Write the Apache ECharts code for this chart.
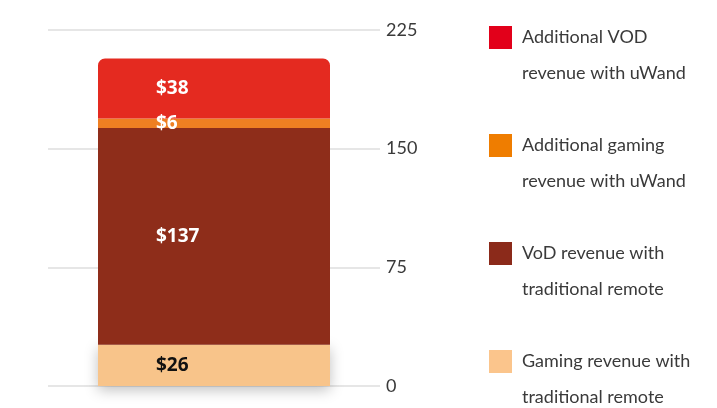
<!DOCTYPE html>
<html><head><meta charset="utf-8">
<script src="https://cdn.jsdelivr.net/npm/echarts@6/dist/echarts.min.js"></script>
<style>html,body{margin:0;padding:0;background:#fff}#c{width:717px;height:408px}</style>
</head><body><div id="c"></div>
<script>
const categories = ['uWand'];
const seriesNames = ['Gaming revenue with\ntraditional remote','VoD revenue with\ntraditional remote','Additional gaming\nrevenue with uWand','Additional VOD\nrevenue with uWand'];
const gamingTraditional = [26];
const vodTraditional = [137];
const gamingAdditional = [6];
const vodAdditional = [38];
const tickValues = [0, 75, 150, 225];
const barColors = ['#f8c48a','#8e2d1a','#ef7f22','#e42a20'];
const legendColors = ['#fbc58c','#8b2a1a','#ef7d00','#e2001a'];
const labelColors = ['#111','#fff','#fff','#fff'];
const values = [gamingTraditional, vodTraditional, gamingAdditional, vodAdditional];

const chart = echarts.init(document.getElementById('c'), null, {renderer:'canvas'});
const series = values.map((v,i)=>({
  name: seriesNames[i], type:'bar', stack:'s', data:v, barWidth:232,
  itemStyle:{color:barColors[i], borderRadius: i===3?[7,7,0,0]:0,
    shadowBlur: i===0?14:0, shadowColor:'rgba(0,0,0,0.25)', shadowOffsetY: i===0?4:0},
  label:{show:true, position:'insideLeft', distance:58, formatter:p=>'$'+p.value,
    color:labelColors[i], fontFamily:'Open Sans', fontWeight:'bold', fontSize:19}
}));
chart.setOption({
  animation:false,
  grid:{left:48, right:337, top:30, bottom:22, containLabel:false},
  xAxis:{type:'category', data:categories, show:false},
  yAxis:{type:'value', position:'right', min:0, max:225, interval:75,
    axisLine:{show:false}, axisTick:{show:false},
    axisLabel:{margin:6, color:'#3a3a3a', fontFamily:'Lato', fontSize:18,
      formatter:v=>tickValues.indexOf(v)>=0?String(v):''},
    splitLine:{lineStyle:{color:'#dedede', width:1.5}}},
  legend:{type:'plain', orient:'vertical', left:489, top:-16.5, height:700, padding:0, itemGap:0,
    itemWidth:23, itemHeight:23, icon:'rect',
    data:[3,2,1,0].map(i=>({name:seriesNames[i], itemStyle:{color:legendColors[i]}})),
    formatter:n=>'\n'+n,
    textStyle:{fontFamily:'Lato', fontSize:18, color:'#3a3a3a', lineHeight:36, padding:[0,0,0,5]}},
  series: series
});
</script></body></html>
